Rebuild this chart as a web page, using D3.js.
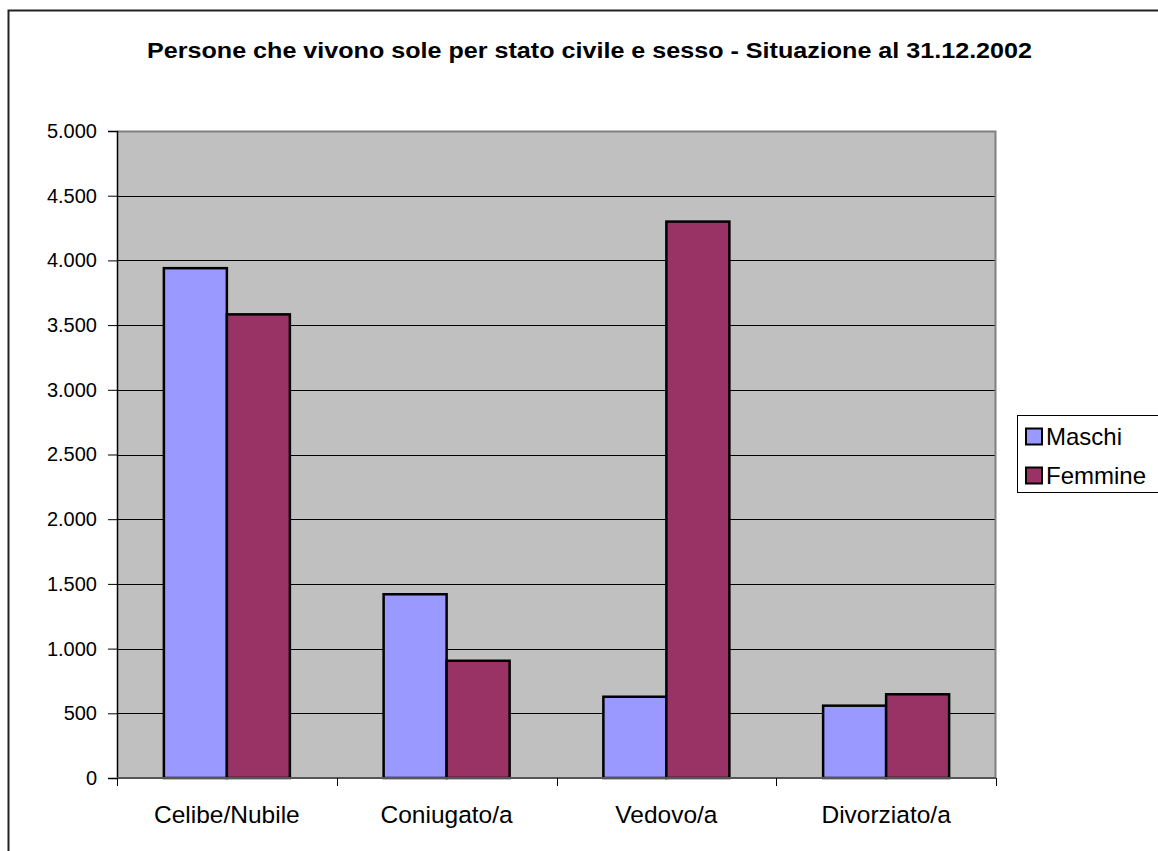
<!DOCTYPE html>
<html>
<head>
<meta charset="utf-8">
<script src="https://cdn.jsdelivr.net/npm/d3@7"></script>
<style>
  html, body { margin: 0; padding: 0; background: #fff; }
  svg { display: block; font-family: "Liberation Sans", Arial, sans-serif; }
</style>
</head>
<body>
<svg id="chart" width="1158" height="851"></svg>
<script>
const title = "Persone che vivono sole per stato civile e sesso - Situazione al 31.12.2002";
const categories = ["Celibe/Nubile", "Coniugato/a", "Vedovo/a", "Divorziato/a"];
const seriesNames = ["Maschi", "Femmine"];
const maschi = [3940, 1420, 628, 559];
const femmine = [3583, 906, 4300, 647];
const yTicks = [0, 500, 1000, 1500, 2000, 2500, 3000, 3500, 4000, 4500, 5000];
const colors = ["#9999FF", "#993366"];

const svg = d3.select("#chart");
const pLeft = 117, pRight = 996, pTop = 131, pBottom = 778;

// outer frame
svg.append("rect").attr("x", 8.5).attr("y", 10.5).attr("width", 1300).attr("height", 1000)
  .attr("fill", "none").attr("stroke", "#222").attr("stroke-width", 2);

svg.append("text").attr("x", 589.5).attr("y", 58).attr("text-anchor", "middle")
  .attr("font-weight", "bold").attr("font-size", 22)
  .attr("textLength", 885).attr("lengthAdjust", "spacingAndGlyphs").text(title);

const y = d3.scaleLinear().domain([0, 5000]).range([pBottom, pTop]);
const x0 = d3.scaleBand().domain(categories).range([pLeft, pRight]).padding(0);
const x1 = d3.scaleBand().domain(seriesNames).range([0, x0.bandwidth()]).paddingInner(0).paddingOuter(0.744);

// plot background
svg.append("rect").attr("x", pLeft).attr("y", pTop).attr("width", pRight - pLeft).attr("height", pBottom - pTop)
  .attr("fill", "#C0C0C0");

// gridlines
svg.append("g").selectAll("line").data(yTicks.filter(d => d > 0 && d < 5000)).join("line")
  .attr("x1", pLeft).attr("x2", pRight).attr("y1", d => Math.round(y(d)) + 0.5).attr("y2", d => Math.round(y(d)) + 0.5)
  .attr("stroke", "#000").attr("stroke-width", 1);
// top and right border of plot
svg.append("path").attr("d", `M${pLeft},${pTop + 0.5}H${pRight - 0.5}V${pBottom}`)
  .attr("fill", "none").attr("stroke", "#808080").attr("stroke-width", 2);

// bars
const data = categories.map((c, i) => ({ cat: c, vals: [maschi[i], femmine[i]] }));
const groups = svg.append("g").selectAll("g").data(data).join("g")
  .attr("transform", d => `translate(${x0(d.cat)},0)`);
groups.selectAll("rect").data(d => d.vals.map((v, j) => ({ s: seriesNames[j], v, j }))).join("rect")
  .attr("x", d => x1(d.s)).attr("width", x1.bandwidth())
  .attr("y", d => y(d.v)).attr("height", d => y(0) - y(d.v))
  .attr("fill", d => colors[d.j]).attr("stroke", "#000").attr("stroke-width", 2.5);

// y axis
const yAxis = d3.axisLeft(y).tickValues(yTicks).tickSize(9).tickPadding(11)
  .tickFormat(d => d3.format(",")(d).replace(/,/g, "."));
const ya = svg.append("g").attr("transform", `translate(${pLeft},0)`).call(yAxis);
ya.select(".domain").attr("stroke", "#000").attr("stroke-width", 1.5);
ya.selectAll(".tick line").attr("stroke", "#000");
ya.selectAll("text").attr("font-size", 20).attr("fill", "#000").attr("font-family", "Liberation Sans, Arial, sans-serif");

// x axis
const xa = svg.append("g").attr("transform", `translate(0,${pBottom})`);
xa.append("line").attr("x1", pLeft).attr("x2", pRight).attr("y1", 0).attr("y2", 0).attr("stroke", "#555").attr("stroke-width", 2);
const boundaries = categories.map(c => x0(c)).concat([pRight]);
xa.selectAll("line.tk").data(boundaries).join("line").attr("class", "tk")
  .attr("x1", d => Math.round(d) + 0.5).attr("x2", d => Math.round(d) + 0.5).attr("y1", 0).attr("y2", 8)
  .attr("stroke", "#000");
xa.selectAll("text").data(categories).join("text")
  .attr("x", d => x0(d) + x0.bandwidth() / 2).attr("y", 45)
  .attr("text-anchor", "middle").attr("font-size", 24.5).text(d => d);

// legend
const lg = svg.append("g");
lg.append("rect").attr("x", 1017.5).attr("y", 415.5).attr("width", 200).attr("height", 77)
  .attr("fill", "#fff").attr("stroke", "#000").attr("stroke-width", 1);
seriesNames.forEach((s, i) => {
  lg.append("rect").attr("x", 1026).attr("y", 428.5 + i * 39).attr("width", 16).attr("height", 16)
    .attr("fill", colors[i]).attr("stroke", "#000").attr("stroke-width", 2);
  lg.append("text").attr("x", 1046).attr("y", 444.5 + i * 39).attr("font-size", 24).text(s);
});
</script>
</body>
</html>
